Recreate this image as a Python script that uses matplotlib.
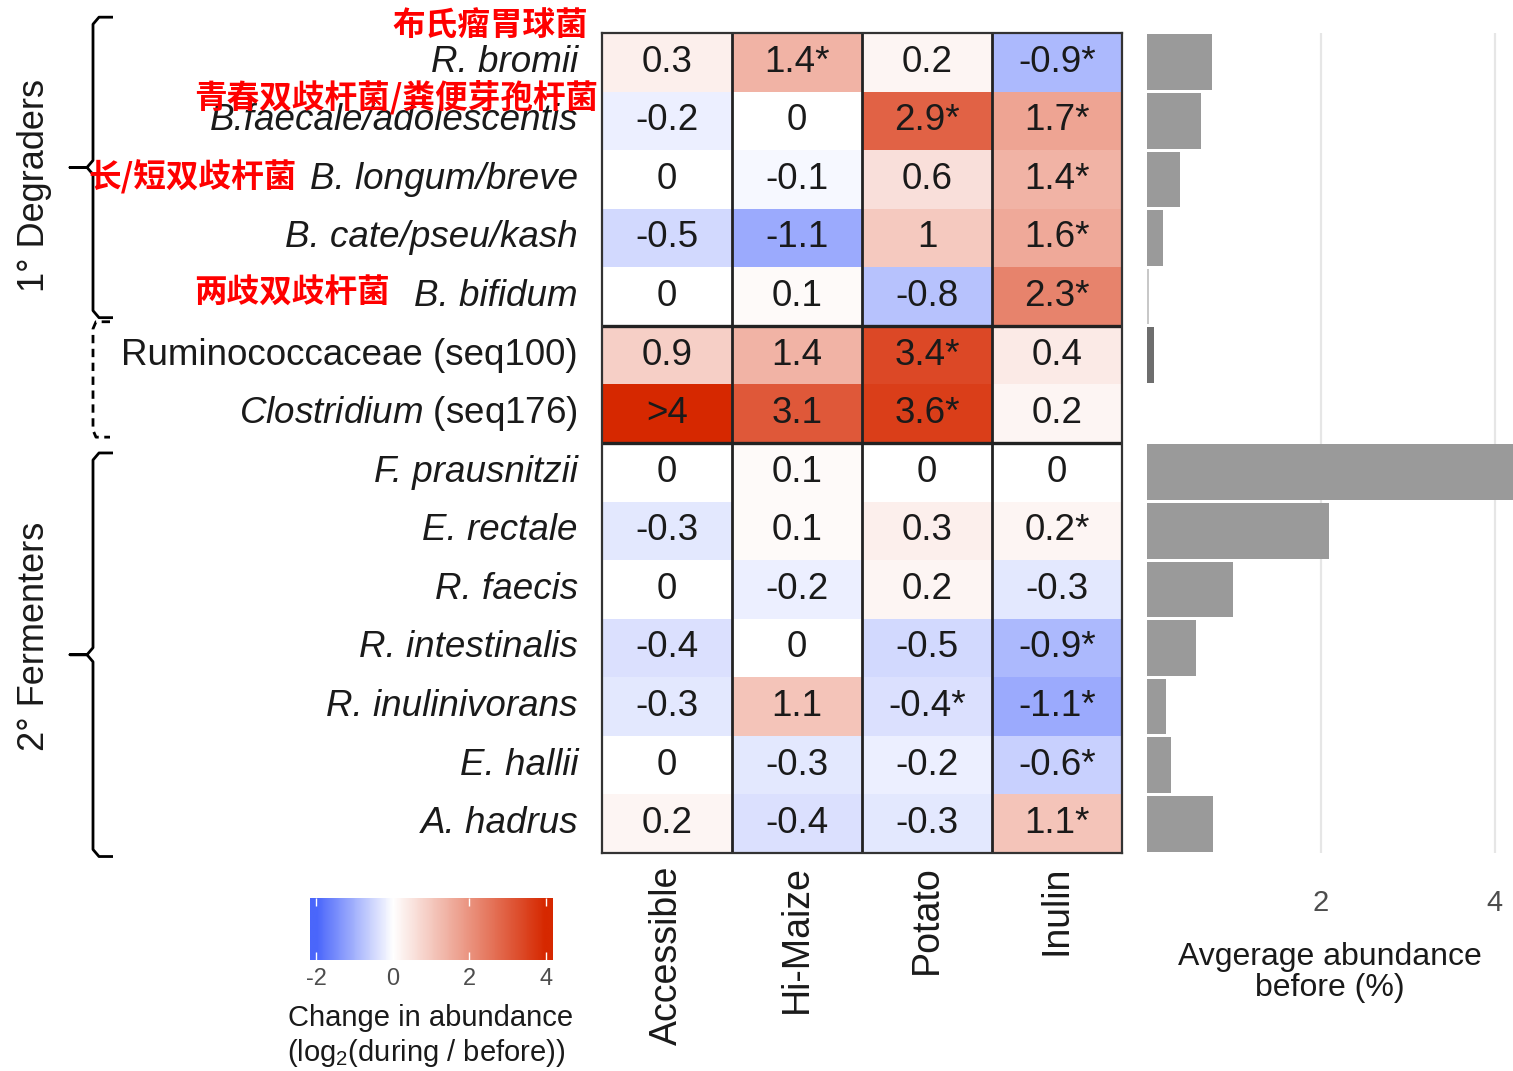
import numpy as np
import matplotlib
matplotlib.use('Agg')
import matplotlib.pyplot as plt
from matplotlib import transforms
from matplotlib.colors import LinearSegmentedColormap, Normalize

plt.rcParams['font.family'] = ['Liberation Sans', 'DejaVu Sans']
plt.rcParams['mathtext.fontset'] = 'custom'
plt.rcParams['mathtext.rm'] = 'Liberation Sans'
plt.rcParams['mathtext.it'] = 'Liberation Sans:italic'
plt.rcParams['axes.unicode_minus'] = False

# ---- data ----
taxa = ['R. bromii', 'B.faecale/adolescentis', 'B. longum/breve', 'B. cate/pseu/kash',
        'B. bifidum', 'Ruminococcaceae (seq100)', r'$\mathit{Clostridium}$ (seq176)',
        'F. prausnitzii', 'E. rectale', 'R. faecis', 'R. intestinalis',
        'R. inulinivorans', 'E. hallii', 'A. hadrus']
italic_name = [True, True, True, True, True, False, False,
               True, True, True, True, True, True, True]
starches = ['Accessible', 'Hi-Maize', 'Potato', 'Inulin']

# log2(during / before), columns = starches
change = np.array([
    [0.3, 1.4, 0.2, -0.9],
    [-0.2, 0, 2.9, 1.7],
    [0, -0.1, 0.6, 1.4],
    [-0.5, -1.1, 1, 1.6],
    [0, 0.1, -0.8, 2.3],
    [0.9, 1.4, 3.4, 0.4],
    [4.3, 3.1, 3.6, 0.2],
    [0, 0.1, 0, 0],
    [-0.3, 0.1, 0.3, 0.2],
    [0, -0.2, 0.2, -0.3],
    [-0.4, 0, -0.5, -0.9],
    [-0.3, 1.1, -0.4, -1.1],
    [0, -0.3, -0.2, -0.6],
    [0.2, -0.4, -0.3, 1.1],
])
signif = np.array([
    [0, 1, 0, 1],
    [0, 0, 1, 1],
    [0, 0, 0, 1],
    [0, 0, 0, 1],
    [0, 0, 0, 1],
    [0, 0, 1, 0],
    [0, 0, 1, 0],
    [0, 0, 0, 0],
    [0, 0, 0, 1],
    [0, 0, 0, 0],
    [0, 0, 0, 1],
    [0, 0, 1, 1],
    [0, 0, 0, 1],
    [0, 0, 0, 1],
], dtype=bool)

# average abundance before (%)
abundance = [0.75, 0.62, 0.38, 0.18, 0.02, 0.08, 0.0,
             4.6, 2.09, 0.99, 0.56, 0.22, 0.28, 0.76]
bar_colors = ['#9a9a9a'] * 4 + ['#c8c8c8', '#6e6e6e', '#9a9a9a'] + ['#9a9a9a'] * 7

cn_names = ['布氏瘤胃球菌', '青春双歧杆菌/粪便芽孢杆菌', '长/短双歧杆菌', '两歧双歧杆菌']

groups = ['1° Degraders', '2° Fermenters']

# ---- layout helpers (pixel boxes) ----
W, H = 1513, 1071
fig = plt.figure(figsize=(W / 100, H / 100), dpi=100)
fig.patch.set_facecolor('white')


def box(x0, y0, x1, y1):
    return [x0 / W, 1 - y1 / H, (x1 - x0) / W, (y1 - y0) / H]


ink = '#1a1a1a'
cmap = LinearSegmentedColormap.from_list(
    'bwr_gg', [(0, '#4a66fb'), (2 / 6, '#ffffff'), (1, '#d62800')])
norm = Normalize(-2, 4)

# ---- heatmap ----
ax = fig.add_axes(box(602, 33, 1122, 853))
nrow, ncol = change.shape
ax.pcolormesh(np.arange(ncol + 1), np.arange(nrow + 1), np.clip(change, -2, 4),
              cmap=cmap, norm=norm)
ax.set_xlim(0, ncol)
ax.set_ylim(nrow, 0)
for i in range(nrow):
    for j in range(ncol):
        v = change[i, j]
        s = '>4' if v > 4 else '{:g}'.format(v)
        if signif[i, j]:
            s += '*'
        ax.text(j + 0.5, i + 0.5, s, ha='center', va='center', fontsize=26.5, color=ink)
for j in range(1, ncol):
    ax.axvline(j, color='#222222', lw=2)
for r in (5, 7):
    ax.axhline(r, color='#222222', lw=2.4)
for sp in ax.spines.values():
    sp.set_color('#333333')
    sp.set_linewidth(1.6)
ax.set_yticks([])
ax.set_xticks(np.arange(ncol) + 0.5)
ax.set_xticklabels(starches, rotation=90, fontsize=27, color=ink)
ax.tick_params(axis='x', length=0, pad=9)

# row names
for i, name in enumerate(taxa):
    ax.text(-24 / 130, i + 0.5, name, ha='right', va='center', fontsize=26.5,
            color=ink, style='italic' if italic_name[i] else 'normal')

# brackets on the left
trans = transforms.blended_transform_factory(fig.transFigure, ax.transData)


def bracket(top, bot, ls='-', tip=True):
    hk = 0.12
    if tip:
        mid = (top + bot) / 2
        xs = [113, 99, 93, 93, 87, 70, 87, 93, 93, 99, 113]
        ys = [top, top, top + hk, mid - hk, mid, mid, mid, mid + hk, bot - hk, bot, bot]
    else:
        xs = [110, 96, 93, 93, 96, 110]
        ys = [top, top, top + hk, bot - hk, bot, bot]
    ax.plot(np.array(xs) / W, ys, color='black', lw=2, ls=ls,
            transform=trans, clip_on=False, solid_capstyle='butt')


bracket(-0.27, 4.86)
bracket(4.93, 6.9, ls=(0, (3, 2)), tip=False)
bracket(7.17, 14.06)
ax.text(35 / W, 2.6, groups[0], rotation=90, ha='center', va='center',
        fontsize=26, color=ink, transform=trans)
ax.text(35 / W, 10.3, groups[1], rotation=90, ha='center', va='center',
        fontsize=26, color=ink, transform=trans)

# chinese names
cn_pos = [(588, 25), (598, 97), (297, 177), (390, 293)]
for name, (x, y) in zip(cn_names, cn_pos):
    fig.text(x / W, 1 - y / H, name, ha='right', va='center', fontsize=23.5,
             color='#ff0000', fontweight='bold', family=['Noto Sans CJK SC', 'DejaVu Sans'])

# ---- abundance bars ----
bx = fig.add_axes(box(1147, 33, 1513, 853))
bx.barh(np.arange(nrow) + 0.5, abundance, height=0.95, color=bar_colors, zorder=2)
bx.set_xlim(0, 4.21)
bx.set_ylim(nrow, 0)
bx.set_xticks([2, 4])
bx.set_yticks([])
bx.grid(axis='x', color='#e6e6e6', lw=1.6, zorder=0)
for sp in bx.spines.values():
    sp.set_visible(False)
bx.tick_params(axis='x', length=0, pad=26, labelsize=21, labelcolor='#4d4d4d')
bx.set_xlabel('Avgerage abundance\nbefore (%)', fontsize=23, color=ink,
              labelpad=18, linespacing=1.05)

# ---- colour legend ----
cax = fig.add_axes(box(310, 898, 553, 960))
lo, hi = -2.16, 4.18
grad = np.linspace(lo, hi, 256)[None, :]
cax.imshow(grad, extent=(lo, hi, 0, 1), aspect='auto', cmap=cmap, norm=norm)
cax.set_xlim(lo, hi)
cax.set_ylim(0, 1)
ticks = [-2, 0, 2, 4]
cax.vlines(ticks, 0, 0.13, color='white', lw=1)
cax.vlines(ticks, 0.87, 1, color='white', lw=1)
cax.set_xticks(ticks)
cax.set_yticks([])
cax.tick_params(axis='x', length=0, pad=6, labelsize=17, labelcolor='#4d4d4d')
for sp in cax.spines.values():
    sp.set_visible(False)
fig.text(431 / W, 1 - 1018 / H, 'Change in abundance', ha='center', va='center',
         fontsize=21, color=ink)
fig.text(426 / W, 1 - 1053 / H, r'(log$_2$(during / before))', ha='center', va='center',
         fontsize=21, color=ink)

fig.savefig('out.png', dpi=100, facecolor='white')
